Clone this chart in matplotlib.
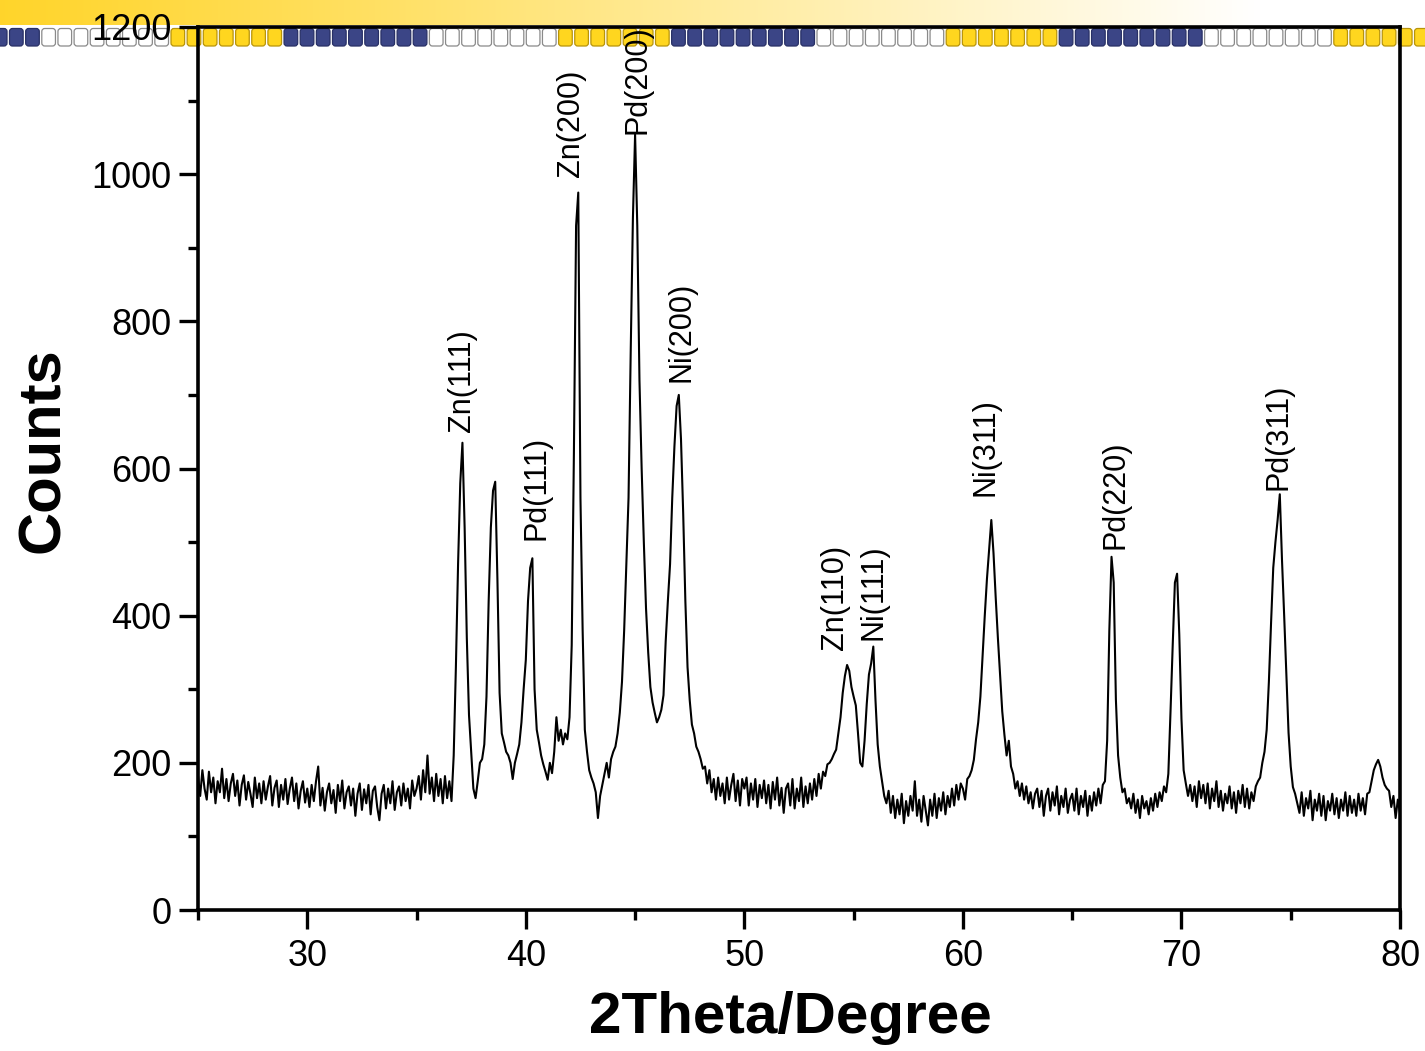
import numpy as np
import matplotlib
matplotlib.use('Agg')
import matplotlib.pyplot as plt
from matplotlib.patches import FancyBboxPatch
from matplotlib.ticker import MultipleLocator

plt.rcParams['font.family'] = ['Liberation Sans', 'DejaVu Sans']

# ---------------- data ----------------
two_theta_start = 25.0
two_theta_step = 0.1

counts_25_30 = [182, 155, 190, 165, 150, 188, 160, 180, 145, 175,
                160, 192, 152, 178, 148, 172, 185, 155, 176, 142,
                170, 183, 150, 174, 158, 140, 180, 152, 172, 145,
                175, 150, 168, 182, 142, 166, 176, 140, 170, 150,
                178, 144, 165, 180, 148, 172, 138, 162, 175, 146]
counts_30_35 = [165, 140, 170, 148, 175, 195, 142, 166, 135, 160,
                172, 145, 163, 132, 170, 148, 176, 138, 160, 168,
                142, 165, 128, 158, 172, 136, 164, 145, 170, 130,
                162, 168, 140, 122, 158, 170, 138, 165, 145, 175,
                136, 160, 168, 142, 172, 148, 165, 138, 176, 155]
counts_35_40 = [165, 182, 150, 190, 160, 210, 158, 180, 148, 185,
                155, 178, 145, 182, 152, 175, 148, 210, 330, 470,
                580, 635, 520, 370, 265, 215, 165, 152, 175, 200,
                205, 225, 290, 420, 520, 570, 582, 450, 295, 240,
                228, 215, 210, 200, 178, 200, 212, 225, 255, 300]
counts_40_45 = [340, 420, 465, 478, 300, 245, 228, 210, 198, 188,
                177, 200, 186, 215, 262, 230, 245, 225, 240, 232,
                262, 360, 620, 930, 975, 560, 380, 245, 215, 190,
                180, 172, 160, 125, 155, 170, 185, 200, 180, 205,
                215, 222, 240, 268, 310, 380, 470, 560, 760, 940]
counts_45_50 = [1054, 930, 720, 600, 500, 410, 350, 303, 282, 268,
                255, 262, 272, 292, 365, 420, 470, 560, 630, 685,
                700, 640, 540, 420, 330, 285, 252, 240, 222, 215,
                205, 192, 195, 172, 190, 160, 178, 150, 180, 155,
                172, 145, 180, 150, 170, 185, 148, 176, 142, 178]
counts_50_55 = [165, 180, 142, 172, 150, 178, 140, 170, 152, 176,
                145, 170, 138, 174, 150, 180, 142, 166, 132, 165,
                172, 142, 178, 138, 165, 148, 180, 140, 168, 145,
                172, 150, 178, 155, 185, 165, 188, 182, 198, 200,
                205, 212, 218, 240, 262, 295, 318, 333, 325, 303]
counts_55_60 = [290, 278, 240, 200, 195, 230, 280, 320, 335, 358,
                285, 225, 195, 175, 155, 145, 162, 132, 155, 125,
                150, 130, 158, 118, 148, 128, 155, 135, 175, 128,
                150, 120, 155, 135, 115, 150, 128, 158, 125, 152,
                135, 160, 130, 155, 140, 165, 142, 170, 150, 172]
counts_60_65 = [165, 150, 178, 182, 190, 204, 232, 255, 290, 345,
                400, 450, 490, 530, 485, 425, 370, 320, 270, 238,
                210, 230, 195, 185, 165, 175, 155, 172, 150, 168,
                145, 160, 138, 158, 165, 140, 162, 128, 155, 165,
                135, 160, 142, 168, 130, 155, 140, 165, 132, 150]
counts_65_70 = [158, 135, 165, 130, 155, 140, 162, 128, 155, 135,
                160, 142, 165, 145, 170, 175, 230, 380, 480, 445,
                286, 210, 180, 160, 165, 145, 152, 138, 158, 132,
                150, 125, 155, 138, 148, 130, 152, 135, 158, 140,
                160, 148, 168, 160, 185, 270, 360, 445, 457, 375]
counts_70_75 = [260, 190, 172, 155, 170, 148, 168, 140, 175, 152,
                170, 145, 172, 138, 165, 148, 175, 140, 162, 135,
                158, 145, 168, 138, 160, 132, 162, 145, 170, 140,
                165, 138, 160, 148, 168, 175, 180, 200, 215, 245,
                310, 390, 465, 500, 530, 565, 476, 400, 320, 241]
counts_75_80 = [195, 167, 158, 145, 132, 160, 128, 152, 138, 162,
                122, 150, 135, 158, 128, 155, 122, 148, 135, 158,
                130, 152, 125, 150, 135, 160, 128, 155, 132, 150,
                128, 158, 135, 152, 130, 158, 160, 175, 190, 198,
                204, 195, 180, 170, 165, 162, 140, 155, 125, 150, 132]

peak_labels = ['Zn(111)', 'Pd(111)', 'Zn(200)', 'Pd(200)', 'Ni(200)',
               'Zn(110)', 'Ni(111)', 'Ni(311)', 'Pd(220)', 'Pd(311)']
label_2theta = [37.1, 40.5, 42.07, 45.09, 47.13, 54.15, 55.89, 61.02, 66.97, 74.43]
label_counts = [650, 503, 996, 1054, 718, 354, 367, 562, 490, 571]

x_ticks = [30, 40, 50, 60, 70, 80]
y_ticks = [0, 200, 400, 600, 800, 1000, 1200]

counts = np.array(counts_25_30 + counts_30_35 + counts_35_40 + counts_40_45 +
                  counts_45_50 + counts_50_55 + counts_55_60 + counts_60_65 +
                  counts_65_70 + counts_70_75 + counts_75_80, dtype=float)
two_theta = two_theta_start + two_theta_step * np.arange(len(counts))

# ---------------- figure ----------------
W, H = 1425, 1051
fig = plt.figure(figsize=(W / 100, H / 100), dpi=100, facecolor='white')

# decorative banner behind the plot (pixel coordinates)
bg = fig.add_axes([0, 0, 1, 1], zorder=-1)
bg.set_xlim(0, W)
bg.set_ylim(H, 0)
bg.axis('off')
t = np.clip(np.linspace(0, W, 600) / 1260.0, 0, 1) ** 1.1
yel = np.array([1.0, 0.835, 0.17])
grad = (1 - t)[:, None] * yel[None, :] + t[:, None] * np.ones(3)[None, :]
bg.imshow(grad[None, :, :], extent=[0, W, 25, 0], aspect='auto', interpolation='bilinear')
pitch = 16.15
pattern = ['y'] * 7 + ['b'] * 9 + ['w'] * 8
fills = {'y': '#FFD61F', 'b': '#3B4586', 'w': '#FFFFFF'}
edges = {'y': '#B8940A', 'b': '#283066', 'w': '#8A8A8A'}
x0 = 170 - 24 * pitch
i = 0
while x0 + i * pitch < W:
    c = pattern[i % 24]
    bg.add_patch(FancyBboxPatch((x0 + i * pitch + 1, 28.5), pitch - 2.5, 17.5,
                                boxstyle="round,pad=0,rounding_size=3",
                                facecolor=fills[c], edgecolor=edges[c], linewidth=0.9))
    i += 1

ax = fig.add_axes([198 / W, 1 - 910 / H, 1202 / W, 883 / H])
ax.patch.set_alpha(0)
ax.plot(two_theta, counts, color='black', linewidth=1.5)

ax.set_xlim(25, 80)
ax.set_ylim(0, 1200)
ax.set_xticks(x_ticks)
ax.set_yticks(y_ticks)
ax.xaxis.set_minor_locator(MultipleLocator(5))
ax.yaxis.set_minor_locator(MultipleLocator(100))
for s in ax.spines.values():
    s.set_linewidth(2.6)
ax.tick_params(which='major', direction='out', length=14, width=2.4, labelsize=26)
ax.tick_params(which='minor', direction='out', length=7.5, width=2.4)
ax.tick_params(axis='x', which='major', pad=7)
ax.tick_params(axis='y', which='major', pad=5)

for name, xv, yv in zip(peak_labels, label_2theta, label_counts):
    ax.text(xv, yv, name, rotation=90, ha='center', va='bottom', fontsize=22)

fig.text(790 / W, 1 - 1033 / H, '2Theta/Degree', ha='center', va='baseline',
         fontsize=42, fontweight='bold')
fig.text(59 / W, 1 - 450 / H, 'Counts', ha='center', va='baseline', rotation=90,
         rotation_mode='anchor', fontsize=43, fontweight='bold')

fig.savefig('out.png', dpi=100, facecolor='white')
